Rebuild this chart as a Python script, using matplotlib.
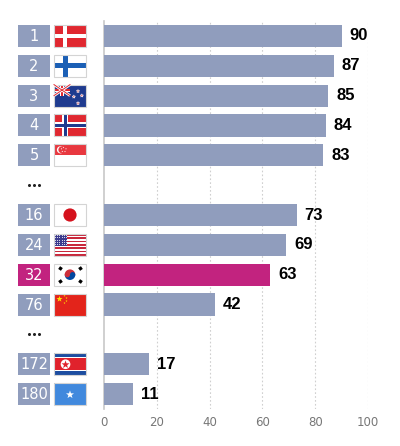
import numpy as np
import matplotlib
matplotlib.use("Agg")
import matplotlib.pyplot as plt
from matplotlib.patches import Rectangle, Circle, Wedge, Polygon

# data
ranks = ['1', '2', '3', '4', '5', '16', '24', '32', '76', '172', '180']
countries = ['Denmark', 'Finland', 'New Zealand', 'Norway', 'Singapore', 'Japan',
             'USA', 'South Korea', 'China', 'North Korea', 'Somalia']
scores = [90, 87, 85, 84, 83, 73, 69, 63, 42, 17, 11]
slots = [0, 1, 2, 3, 4, 6, 7, 8, 9, 11, 12]
gap_slots = [5, 10]
highlight = 'South Korea'
xticks = [0, 20, 40, 60, 80, 100]

BAR = '#909dbd'
HL = '#c2237f'
n_slots = 13

fig = plt.figure(figsize=(4.0, 4.46), dpi=100)
ax = fig.add_axes([104 / 400, 1 - 409 / 446, 264 / 400, 388 / 446])
lax = fig.add_axes([0, 1 - 409 / 446, 104 / 400, 388 / 446])

colors = [HL if c == highlight else BAR for c in countries]
ax.barh(slots, scores, height=0.74, color=colors, zorder=3)
for s, v in zip(slots, scores):
    ax.text(v + 3, s, str(v), va='center', ha='left', fontsize=12, fontweight='bold',
            family=['Liberation Sans Narrow', 'Liberation Sans', 'DejaVu Sans'], color='black')

ax.set_xlim(0, 100)
ax.set_ylim(n_slots - 0.5, -0.5)
ax.set_xticks(xticks)
ax.set_yticks([])
ax.tick_params(axis='x', length=0, labelsize=8.5, labelcolor='#777777', pad=5)
for sp in ['top', 'right', 'bottom']:
    ax.spines[sp].set_visible(False)
ax.spines['left'].set_color('#c8c8c8')
ax.spines['left'].set_linewidth(1.2)
for t in xticks[1:]:
    ax.axvline(t, color='#cfcfcf', lw=0.8, ls=(0, (1.5, 2)), zorder=1)

# left panel in pixel units
row_h = 388 / n_slots
lax.set_xlim(0, 104)
lax.set_ylim(388, 0)
lax.axis('off')


def star(cx, cy, r, color, rot=0, ec='none'):
    pts = []
    for i in range(10):
        rr = r if i % 2 == 0 else r * 0.4
        a = np.deg2rad(-90 + rot + i * 36)
        pts.append((cx + rr * np.cos(a), cy + rr * np.sin(a)))
    lax.add_patch(Polygon(pts, closed=True, color=color, ec=ec, lw=0.4))


def rect(x, y, w, h, c):
    lax.add_patch(Rectangle((x, y), w, h, color=c, lw=0))


def flag(name, x, y, w, h):
    red = '#e02830'
    if name == 'Denmark':
        rect(x, y, w, h, red)
        rect(x + 9, y, 3.5, h, 'white')
        rect(x, y + h / 2 - 1.7, w, 3.4, 'white')
    elif name == 'Finland':
        rect(x, y, w, h, 'white')
        rect(x + 9, y, 5, h, '#1b5fb5')
        rect(x, y + h / 2 - 2.5, w, 5, '#1b5fb5')
    elif name == 'New Zealand':
        rect(x, y, w, h, '#1f3b8f')
        cw, ch = w / 2, h / 2
        lax.plot([x, x + cw], [y, y + ch], color='white', lw=2, solid_capstyle='butt')
        lax.plot([x, x + cw], [y + ch, y], color='white', lw=2, solid_capstyle='butt')
        lax.plot([x, x + cw], [y, y + ch], color=red, lw=0.7)
        lax.plot([x, x + cw], [y + ch, y], color=red, lw=0.7)
        rect(x + cw / 2 - 1.6, y, 3.2, ch, 'white')
        rect(x, y + ch / 2 - 1.6, cw, 3.2, 'white')
        rect(x + cw / 2 - 0.9, y, 1.8, ch, red)
        rect(x, y + ch / 2 - 0.9, cw, 1.8, red)
        for sx, sy in [(0.75, 0.3), (0.87, 0.5), (0.62, 0.55), (0.75, 0.85)]:
            star(x + sx * w, y + sy * h, 1.8, red, ec='white')
    elif name == 'Norway':
        rect(x, y, w, h, red)
        rect(x + 8, y, 6, h, 'white')
        rect(x, y + h / 2 - 3, w, 6, 'white')
        rect(x + 9.5, y, 3, h, '#1f3b8f')
        rect(x, y + h / 2 - 1.5, w, 3, '#1f3b8f')
    elif name == 'Singapore':
        rect(x, y, w, h, 'white')
        rect(x, y, w, h / 2, '#e8383f')
        lax.add_patch(Circle((x + 6.5, y + h / 4), 3.6, color='white', lw=0))
        lax.add_patch(Circle((x + 7.8, y + h / 4), 3.4, color='#e8383f', lw=0))
        for sx, sy in [(9.5, 3.2), (12, 4.5), (11, 7.2), (8.3, 7.2), (7.5, 4.5)]:
            star(x + sx, y + sy, 0.9, 'white')
    elif name == 'Japan':
        rect(x, y, w, h, 'white')
        lax.add_patch(Circle((x + w / 2, y + h / 2), h * 0.3, color='#d5121d', lw=0))
    elif name == 'USA':
        sh = h / 13
        for i in range(13):
            rect(x, y + i * sh, w, sh + 0.05, '#c8283c' if i % 2 == 0 else 'white')
        rect(x, y, w * 0.42, sh * 7, '#3c3b8e')
        for i in range(5):
            for j in range(6):
                lax.plot(x + 1.2 + j * 2.1, y + 1.2 + i * 2.3, 'o', ms=0.6, color='white', mew=0)
    elif name == 'South Korea':
        rect(x, y, w, h, 'white')
        cx, cy, r = x + w / 2, y + h / 2, h * 0.24
        lax.add_patch(Wedge((cx, cy), r, 180, 360, color='#cd2e3a', lw=0))
        lax.add_patch(Wedge((cx, cy), r, 0, 180, color='#0047a0', lw=0))
        lax.add_patch(Circle((cx - r / 2, cy), r / 2, color='#cd2e3a', lw=0))
        lax.add_patch(Circle((cx + r / 2, cy), r / 2, color='#0047a0', lw=0))
        for dx, dy, ang in [(-1, -1, -35), (1, -1, 35), (-1, 1, 35), (1, 1, -35)]:
            tx, ty = cx + dx * w * 0.3, cy + dy * h * 0.3
            lax.plot(tx, ty, marker=(4, 0, 45 + ang), ms=3.4, color='black', mew=0)
    elif name == 'China':
        rect(x, y, w, h, '#e3241b')
        star(x + 5.5, y + 5.5, 3.2, '#ffde00')
        for sx, sy in [(10.5, 2.2), (12.5, 4.5), (12.5, 7.5), (10.5, 9.5)]:
            star(x + sx, y + sy, 1.1, '#ffde00')
    elif name == 'North Korea':
        rect(x, y, w, h, '#1d4da0')
        rect(x, y + h * 0.17, w, h * 0.66, 'white')
        rect(x, y + h * 0.23, w, h * 0.54, '#e0222c')
        lax.add_patch(Circle((x + w * 0.36, y + h / 2), h * 0.22, color='white', lw=0))
        star(x + w * 0.36, y + h / 2 + 0.4, h * 0.19, '#e0222c')
    elif name == 'Somalia':
        rect(x, y, w, h, '#4189dd')
        star(x + w / 2, y + h / 2 + 0.6, 4.2, 'white')
    lax.add_patch(Rectangle((x, y), w, h, fill=False, ec='#d4d4d4', lw=0.8))


for r, c, s in zip(ranks, countries, slots):
    cy = (s + 0.5) * row_h
    bh = 22
    box_c = HL if c == highlight else BAR
    rect(18, cy - bh / 2, 32, bh, box_c)
    lax.text(34, cy + 0.5, r, color='white', ha='center', va='center', fontsize=10.5)
    flag(c, 54, cy - bh / 2, 32, bh)

for g in gap_slots:
    cy = (g + 0.5) * row_h
    for dx in (-5, 0, 5):
        lax.plot(34 + dx, cy, 'o', ms=2.2, color='#222222', mew=0)

fig.savefig('out.png', dpi=100, facecolor='white')
